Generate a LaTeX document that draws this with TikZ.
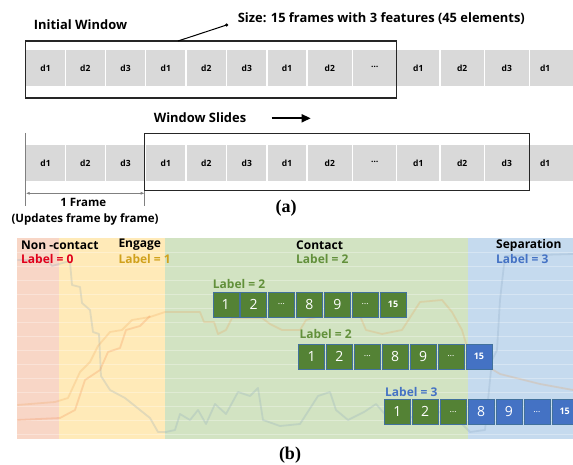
\documentclass[tikz,border=0pt]{standalone}
\usepackage{fontspec}
\setmainfont{Open Sans}
\newfontfamily\figfont{Liberation Serif}
\usetikzlibrary{arrows.meta}

\definecolor{cellgray}{HTML}{D9D9D9}
\definecolor{framecol}{HTML}{262626}
\definecolor{dimgray}{HTML}{808080}
\definecolor{nonred}{HTML}{F8D6C6}
\definecolor{engyellow}{HTML}{FFEAB8}
\definecolor{congreen}{HTML}{D2E3C2}
\definecolor{sepblue}{HTML}{C5DAEE}
\definecolor{lblred}{HTML}{E0001B}
\definecolor{lblgold}{HTML}{D0A11C}
\definecolor{lblgreen}{HTML}{62903B}
\definecolor{lblblue}{HTML}{4472C4}
\definecolor{boxgreen}{HTML}{548235}
\definecolor{boxblue}{HTML}{4472C4}
\definecolor{boxedge}{HTML}{41719C}
\definecolor{traceblue}{HTML}{7F9DB9}
\definecolor{traceorange}{HTML}{ED9A4A}

\newcommand{\celldots}{\raisebox{2pt}{…}}
\newcommand{\sqdots}{{\fontsize{9}{9}\selectfont …}}
\newcommand{\sqlast}{{\fontsize{9}{9}\selectfont\bfseries 15}}

\begin{document}
\begin{tikzpicture}[x=1pt, y=-1pt,
    cell/.style={inner sep=0pt, font=\fontsize{8.5}{10}\selectfont\bfseries},
    win/.style={draw=framecol, line width=1.5pt},
    txt/.style={inner sep=0pt, font=\fontsize{12.9}{15}\selectfont\bfseries},
    note/.style={inner sep=0pt, font=\fontsize{11.5}{13}\selectfont\bfseries},
    hdr/.style={anchor=west, inner sep=0pt, font=\fontsize{12}{14}\selectfont\bfseries},
    sqg/.style={draw=boxedge, fill=boxgreen, minimum width=26pt, minimum height=25pt,
        inner sep=0pt, text=white, font=\fontsize{14}{14}\selectfont},
    sqb/.style={sqg, fill=boxblue},
    trace/.style={line width=1.8pt, opacity=.22, line join=round},
    caption/.style={inner sep=0pt, font=\figfont\fontsize{18}{20}\selectfont\bfseries}]
    \clip (0,0) rectangle (573,465);

    % (a) sliding window
    \foreach \yy/\rw in {68/a, 163.3/b} {
        \fill[cellgray] (25.7,\yy-18) rectangle (573,\yy+18);
        \foreach \l/\r/\t [count=\i] in {25.7/65.3/d1, 65.3/105.3/d2, 105.3/145.7/d3,
                145.7/186/d1, 186/226.6/d2, 226.6/267/d3, 267/307/d1, 307/352.7/d2,
                352.7/396.6/\celldots, 396.6/440/d1, 440/484.3/d2, 484.3/529.3/d3, 529.3/561/d1} {
            \node[cell] (\rw\i) at ({(\l+\r)/2},\yy) {\t};
            \ifnum\i<13
                \draw[white, line width=1.5pt] (\r,\yy-18) -- (\r,\yy+18);
            \fi
        }
    }
    \draw[win] (25.7,41) rectangle (396.6,98);
    \draw[win] (144.7,133.3) rectangle (529.3,190.7);

    \node[txt] (initwin) at (80.5,25) {Initial Window};
    \node[txt, anchor=west] (winsize) at (237.6,18.3) {Size: 15 frames with 3 features (45 elements)};
    \coordinate (szdot) at (226.6,25);
    \coordinate (wintop) at (178,41);
    \fill (szdot) circle (1.7pt);
    \draw[line width=1pt] (szdot) -- (wintop);

    \node[txt] (slides) at (200,117.3) {Window Slides};
    \coordinate (slidel) at (271.7,118.3);
    \coordinate (slider) at (310.7,118.3);
    \draw[line width=1.6pt, -{Triangle[length=9pt,width=8pt]}] (slidel) -- (slider);

    % one frame step
    \coordinate (fl) at (25.7,193.3);
    \coordinate (fr) at (144.7,193.3);
    \draw[dimgray, line width=1.3pt] (25.7,133) -- (25.7,206);
    \draw[dimgray, line width=1pt] (144.7,190.7) -- (144.7,206);
    \draw[dimgray, line width=.8pt, {Latex[length=4pt,width=3pt]}-{Latex[length=4pt,width=3pt]}] (fl) -- (fr);
    \node[note] (oneframe) at (83.3,202.7) {1 Frame};
    \node[note] (updates) at (85,219.3) {(Updates frame by frame)};
    \node[caption] (capa) at (286,208) {(a)};

    % (b) labelled phases
    \fill[nonred] (17.3,238.3) rectangle (59.3,439);
    \fill[engyellow] (59.3,238.3) rectangle (165,439);
    \fill[congreen] (165,238.3) rectangle (467.7,439);
    \fill[sepblue] (467.7,238.3) rectangle (573,439);
    \foreach \gy in {252,266,...,434} {
        \draw[white, opacity=.3, line width=.6pt] (17.3,\gy) -- (573,\gy);
    }
    \draw[trace, traceblue] (17.3,260) -- (48,260) -- (52,266) -- (66,262) -- (70,262) -- (72,285)
        -- (80,287) -- (82,303) -- (90,310) -- (93,332) -- (99,334) -- (101,376) -- (110,390)
        -- (125,398) -- (140,410) -- (150,418) -- (158,432) -- (166,432) -- (175,430)
        -- (180,414) -- (190,420) -- (198,410) -- (206,424) -- (215,404) -- (226,414)
        -- (238,392) -- (250,396) -- (258,388) -- (263,420) -- (280,426) -- (300,424)
        -- (318,396) -- (330,392) -- (336,410) -- (348,420) -- (364,412) -- (376,404)
        -- (390,420) -- (402,414) -- (420,420) -- (440,412) -- (458,420) -- (470,432)
        -- (485,430) -- (492,360) -- (497,350) -- (500,300) -- (505,256) -- (573,254);
    \draw[trace, traceorange] (17.3,405) -- (55,402) -- (68,398) -- (80,372) -- (90,362)
        -- (98,346) -- (110,332) -- (122,330) -- (132,320) -- (150,317) -- (165,312)
        -- (200,312) -- (204,322) -- (214,322) -- (218,334) -- (226,330) -- (232,318)
        -- (262,318) -- (270,324) -- (282,330) -- (300,330) -- (306,320) -- (320,316)
        -- (360,316) -- (366,330) -- (382,334) -- (402,330) -- (420,302) -- (442,300)
        -- (452,312) -- (462,330) -- (468,350) -- (480,362) -- (500,374) -- (540,384) -- (573,390);
    \draw[trace, traceorange!80!red] (17.3,420) -- (60,418) -- (75,410) -- (85,380) -- (100,370)
        -- (108,352) -- (120,348) -- (126,330) -- (140,326) -- (150,316);

    \node[hdr] (noncon) at (21,245) {Non -contact};
    \node[hdr, text=lblred] (lbl0) at (21,259) {Label = 0};
    \node[hdr] (engage) at (118.3,245) {Engage};
    \node[hdr, text=lblgold] (lbl1) at (118.3,259) {Label = 1};
    \node[hdr] (contact) at (296,245) {Contact};
    \node[hdr, text=lblgreen] (lbl2) at (296,259) {Label = 2};
    \node[hdr] (separ) at (496,245) {Separation};
    \node[hdr, text=lblblue] (lbl3) at (496,259) {Label = 3};

    % windows of 15 frames
    \node[hdr, text=lblgreen] (wlbla) at (212.7,284) {Label = 2};
    \foreach \t/\c [count=\i from 0] in {1/sqg, 2/sqg, \sqdots/sqg, 8/sqg, 9/sqg, \sqdots/sqg, \sqlast/sqg} {
        \node[\c] (wa\i) at (225.7+\i*27.9,304.2) {\t};
    }
    \node[hdr, text=lblgreen] (wlblb) at (299.3,334) {Label = 2};
    \foreach \t/\c [count=\i from 0] in {1/sqg, 2/sqg, \sqdots/sqg, 8/sqg, 9/sqg, \sqdots/sqg, \sqlast/sqb} {
        \node[\c] (wb\i) at (311.5+\i*27.9,356.5) {\t};
    }
    \node[hdr, text=lblblue] (wlblc) at (385,391.7) {Label = 3};
    \foreach \t/\c [count=\i from 0] in {1/sqg, 2/sqg, \sqdots/sqg, 8/sqb, 9/sqb, \sqdots/sqb, \sqlast/sqb} {
        \node[\c] (wc\i) at (397.3+\i*27.9,411.8) {\t};
    }
    \node[caption] (capb) at (290,455) {(b)};
\end{tikzpicture}
\end{document}
